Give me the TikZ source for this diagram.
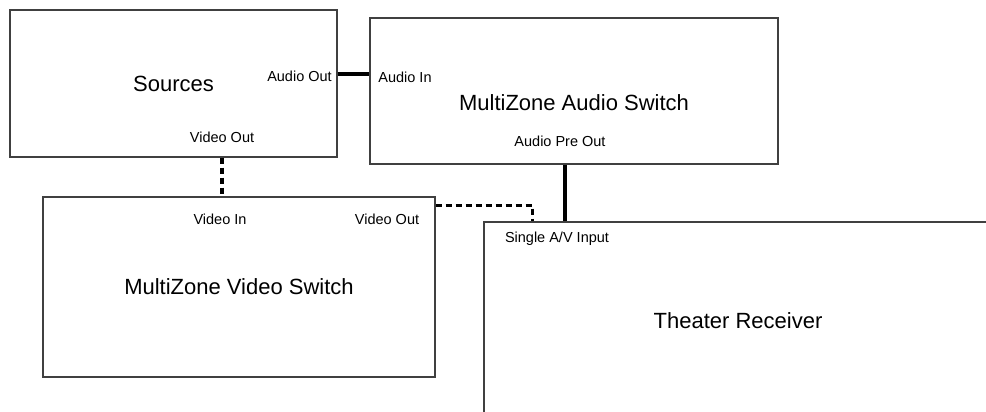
\documentclass[tikz,border=0pt]{standalone}
\usepackage{fontspec}
\setmainfont{Liberation Sans}
\usepackage{tikz}

\begin{document}
\begin{tikzpicture}[
  x=1pt,y=-1pt,
  box/.style={rectangle,draw=black!75,line width=1.2pt,inner sep=0pt,font=\fontsize{22}{26}\selectfont},
  port/.style={inner sep=0pt,font=\fontsize{14.5}{17}\selectfont},
  audio/.style={line width=3.5pt},
  video/.style={line width=3.5pt,dash pattern=on 6pt off 4pt}
]
  \useasboundingbox (0,0) rectangle (986,412);
  \clip (0,0) rectangle (986,412);
  \node[box,minimum width=327,minimum height=147] (src) at (173.5,83.5) {Sources};
  \node[box,minimum width=408,minimum height=146,label={[font=\fontsize{22}{26}\selectfont,yshift=-12pt]center:MultiZone Audio Switch}] (aud) at (574,91) {};
  \node[box,minimum width=392,minimum height=180] (vid) at (239,287) {MultiZone Video Switch};
  \node[box,minimum width=508,minimum height=198] (rcv) at (738,321) {Theater Receiver};
  \node[port] (aout) at (299.5,76) {Audio Out};
  \node[port] (ain) at (405,77) {Audio In};
  \node[port] (svout) at (222,137) {Video Out};
  \node[port] (vin) at (220,219) {Video In};
  \node[port] (vout) at (387,219) {Video Out};
  \node[port] (apo) at (560,141) {Audio Pre Out};
  \node[port] (avin) at (557,239) {Single A/V Input};
  \draw[audio] (src.east |- 0,74) -- (aud.west |- 0,74);
  \draw[audio] (aud.south -| 565,0) -- (rcv.north -| 565,0);
  \draw[video] (svout.south |- src.south) -- (svout.south |- vid.north);
  \draw[video] ([yshift=-9pt]vid.north east) -| ([xshift=49pt]rcv.north west);
\end{tikzpicture}
\end{document}
